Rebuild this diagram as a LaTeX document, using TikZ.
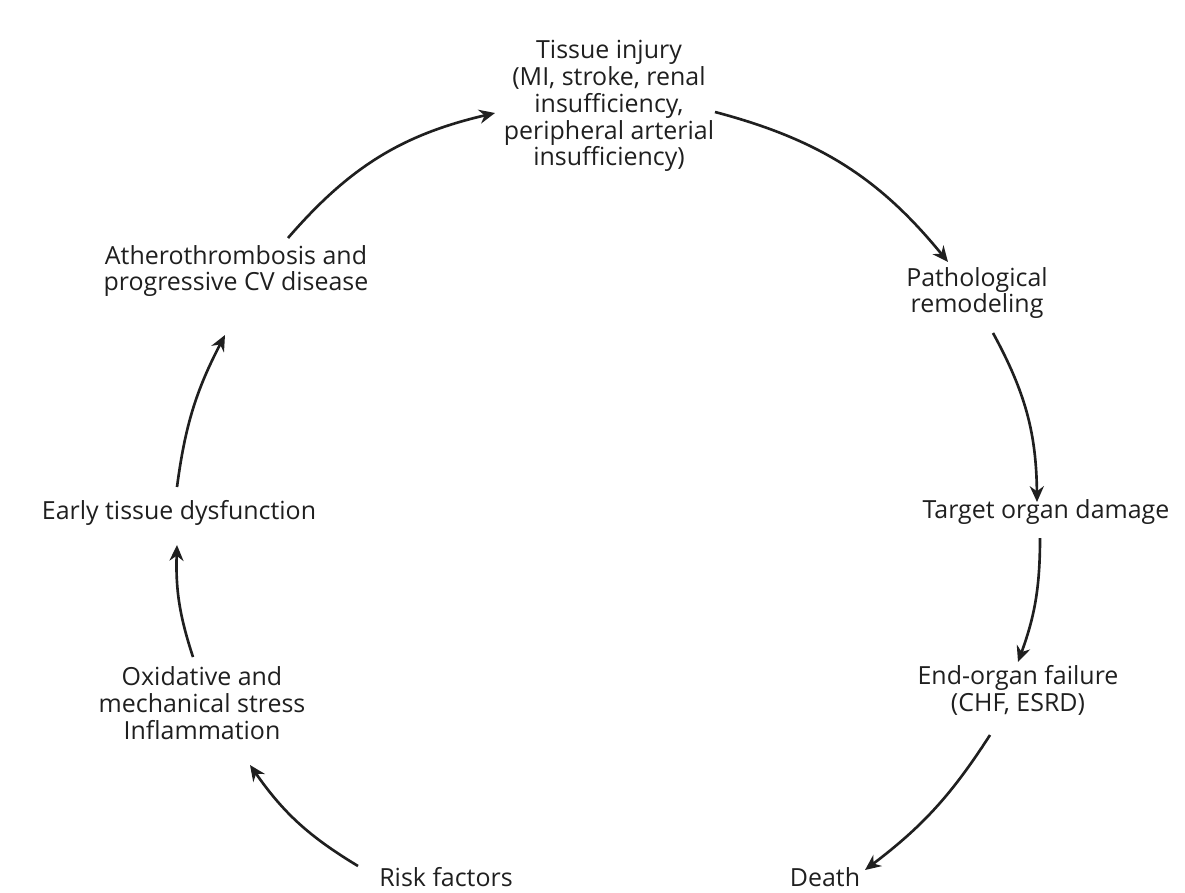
\documentclass[tikz,border=0pt]{standalone}
\usepackage{fontspec}
\setmainfont{Open Sans}
\usetikzlibrary{arrows.meta, positioning}

\begin{document}
\begin{tikzpicture}[
    x=0.02cm, y=-0.02cm,
    stage/.style={align=center, font=\fontsize{14.2}{15.3}\selectfont, text=black!88, inner sep=1pt},
    arrow/.style={-{Stealth[length=9pt, width=8pt]}, line width=1.5pt, black!88, bend left=18}
]
    \useasboundingbox (0,0) rectangle (1185,892);

    % Stages around the cycle
    \node[stage] (tissue) at (609,106) {Tissue injury\\(MI, stroke, renal\\insufficiency,\\peripheral arterial\\insufficiency)};
    \node[stage] (patho) at (977,293) {Pathological\\remodeling};
    \node[stage] (target) at (1046,512) {Target organ damage};
    \node[stage] (endorgan) at (1018,690) {End-organ failure\\(CHF, ESRD)};
    \node[stage, anchor=base] (death) at (825,886) {Death};
    \node[stage, anchor=base] (risk) at (446,886) {Risk factors};
    \node[stage] (oxid) at (202,703) {Oxidative and\\mechanical stress\\Inflammation};
    \node[stage] (early) at (179,513) {Early tissue dysfunction};
    \node[stage] (athero) at (236,271) {Atherothrombosis and\\progressive CV disease};

    % Arrows
    \draw[arrow] ([shift={(52,-33)}]athero.center) to ([shift={(-114,7)}]tissue.center);
    \draw[arrow] ([shift={(106,6)}]tissue.center) to ([shift={(-29,-31)}]patho.center);
    \draw[arrow, bend left=14] ([shift={(16,40)}]patho.center) to ([shift={(-9,-10)}]target.center);
    \draw[arrow, bend left=10] ([shift={(-6,26)}]target.center) to ([shift={(0,-28)}]endorgan.center);
    \draw[arrow, bend left=10] ([shift={(-28,45)}]endorgan.center) to ([shift={(40,-16)}]death.base);
    \draw[arrow, bend left=12] ([shift={(-88,-20)}]risk.base) to ([shift={(48,62)}]oxid.center);
    \draw[arrow, bend left=10] ([shift={(-9,-46)}]oxid.center) to ([shift={(-2,32)}]early.center);
    \draw[arrow, bend left=10] ([shift={(-2,-26)}]early.center) to ([shift={(-11,64)}]athero.center);

\end{tikzpicture}
\end{document}
